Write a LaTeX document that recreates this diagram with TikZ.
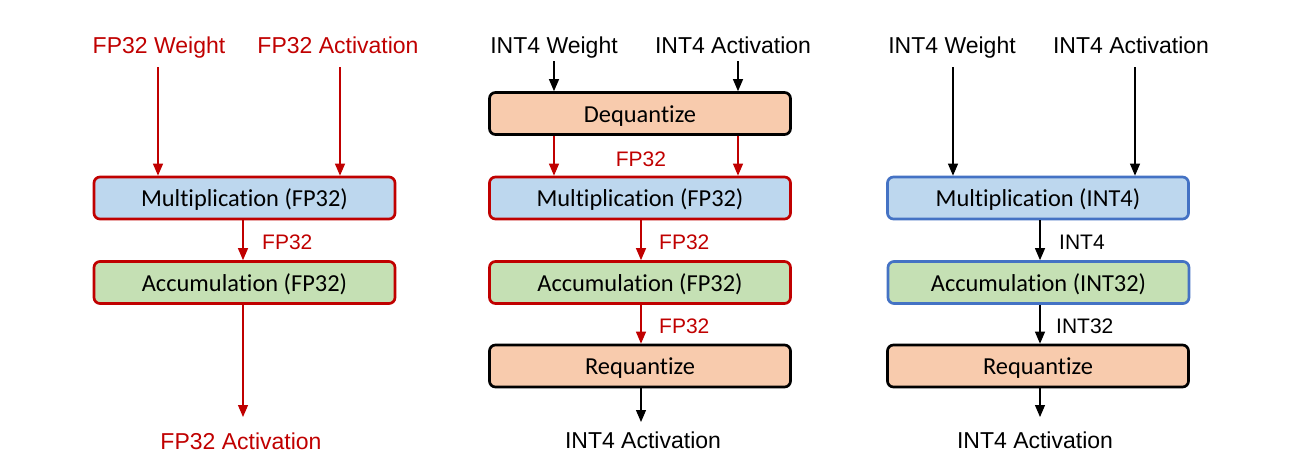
\documentclass[tikz,border=0pt]{standalone}
\usepackage{fontspec}
\setmainfont{Liberation Sans}
\newfontfamily\boxfont[Ligatures=NoCommon]{Carlito}
\usetikzlibrary{arrows.meta}
\definecolor{cred}{HTML}{C00000}
\definecolor{cblue}{HTML}{4472C4}
\definecolor{fblue}{HTML}{BDD7EE}
\definecolor{fgreen}{HTML}{C5E0B4}
\definecolor{forange}{HTML}{F8CBAD}
\tikzset{
  x=1pt, y=-1pt,
  procbox/.style={draw, line width=2.7pt, rounded corners=6pt, minimum width=301pt, minimum height=42pt, inner sep=0pt, text height=17.5pt, text depth=0pt, font=\boxfont\fontsize{24.4}{27}\selectfont},
  redbox/.style={procbox, draw=cred},
  bluebox/.style={procbox, draw=cblue},
  blackbox/.style={procbox, draw=black, fill=forange},
  lbl/.style={inner sep=0pt, anchor=base, font=\fontsize{23}{25}\selectfont},
  elbl/.style={inner sep=0pt, anchor=base west, font=\fontsize{21}{23}\selectfont},
  arr/.style={-{Triangle[width=10pt,length=12pt]}, line width=1.2pt},
  redarr/.style={arr, draw=cred, color=cred},
}
\begin{document}
\begin{tikzpicture}
\useasboundingbox (0,0) rectangle (1303,466);
% ---------- Panel 1 ----------
\node[lbl, text=cred] (w1) at (159,53) {FP32 Weight};
\node[lbl, text=cred] (a1) at (338,53) {FP32 Activation};
\node[redbox, fill=fblue] (m1) at (244.5,198) {Multiplication (FP32)};
\node[redbox, fill=fgreen] (c1) at (244.5,282.5) {Accumulation (FP32)};
\node[lbl, text=cred] (o1) at (241,449) {FP32 Activation};
\node[elbl, text=cred] (l1) at (262,249) {FP32};
\coordinate (x1a) at (158,67);
\coordinate (x1b) at (340,67);
\coordinate (x1c) at (243,0);
\coordinate (e1) at (243,417);
\draw[redarr] (x1a) -- (x1a |- m1.north);
\draw[redarr] (x1b) -- (x1b |- m1.north);
\draw[redarr] (m1.south -| x1c) -- (c1.north -| x1c);
\draw[redarr] (c1.south -| x1c) -- (e1);
% ---------- Panel 2 ----------
\node[lbl] (w2) at (554,53) {INT4 Weight};
\node[lbl] (a2) at (733,53) {INT4 Activation};
\node[blackbox] (d2) at (640,113.5) {Dequantize};
\node[redbox, fill=fblue] (m2) at (640,198) {Multiplication (FP32)};
\node[redbox, fill=fgreen] (c2) at (640,282.5) {Accumulation (FP32)};
\node[blackbox] (r2) at (640,366) {Requantize};
\node[lbl] (o2) at (643,448) {INT4 Activation};
\node[lbl, text=cred, font=\fontsize{21}{23}\selectfont] (l2a) at (641,166) {FP32};
\node[elbl, text=cred] (l2b) at (659,249) {FP32};
\node[elbl, text=cred] (l2c) at (659,333) {FP32};
\coordinate (x2a) at (554,61);
\coordinate (x2b) at (738,61);
\coordinate (x2c) at (641,0);
\coordinate (e2) at (641,422);
\draw[arr] (x2a) -- (x2a |- d2.north);
\draw[arr] (x2b) -- (x2b |- d2.north);
\draw[redarr] (d2.south -| x2a) -- (m2.north -| x2a);
\draw[redarr] (d2.south -| x2b) -- (m2.north -| x2b);
\draw[redarr] (m2.south -| x2c) -- (c2.north -| x2c);
\draw[redarr] (c2.south -| x2c) -- (r2.north -| x2c);
\draw[arr] (r2.south -| x2c) -- (e2);
% ---------- Panel 3 ----------
\node[lbl] (w3) at (952,53) {INT4 Weight};
\node[lbl] (a3) at (1131,53) {INT4 Activation};
\node[bluebox, fill=fblue] (m3) at (1038,198) {Multiplication (INT4)};
\node[bluebox, fill=fgreen] (c3) at (1038.5,282.5) {Accumulation (INT32)};
\node[blackbox] (r3) at (1038,366) {Requantize};
\node[lbl] (o3) at (1035,448) {INT4 Activation};
\node[elbl] (l3a) at (1059,249) {INT4};
\node[elbl] (l3b) at (1056,333) {INT32};
\coordinate (x3a) at (953,67);
\coordinate (x3b) at (1135,67);
\coordinate (x3c) at (1040,0);
\coordinate (e3) at (1040,417);
\draw[arr] (x3a) -- (x3a |- m3.north);
\draw[arr] (x3b) -- (x3b |- m3.north);
\draw[arr] (m3.south -| x3c) -- (c3.north -| x3c);
\draw[arr] (c3.south -| x3c) -- (r3.north -| x3c);
\draw[arr] (r3.south -| x3c) -- (e3);
\end{tikzpicture}
\end{document}
